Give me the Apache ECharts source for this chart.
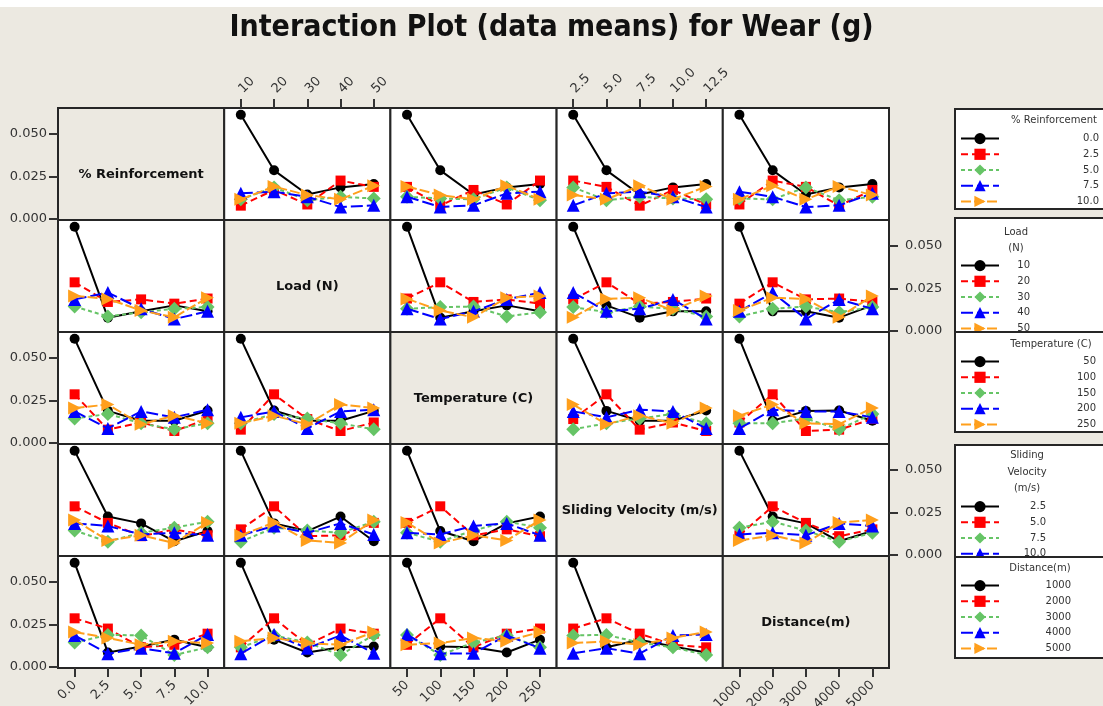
<!DOCTYPE html>
<html><head><meta charset="utf-8">
<script src="https://cdn.jsdelivr.net/npm/echarts@6/dist/echarts.min.js"></script>
<style>html,body{margin:0;padding:0;background:#ECE9E1}#c{width:1103px;height:706px}</style>
</head><body><div id="c"></div>
<script>
// ---- factor levels (tick labels) ----
const reinforcementLevels = ['0.0', '2.5', '5.0', '7.5', '10.0'];
const loadLevels = ['10', '20', '30', '40', '50'];
const temperatureLevels = ['50', '100', '150', '200', '250'];
const velocityLevels = ['2.5', '5.0', '7.5', '10.0', '12.5'];
const distanceLevels = ['1000', '2000', '3000', '4000', '5000'];

// ---- L25 experiment: level number (1-5) of each factor in each run ----
const runReinforcement = [1,1,1,1,1, 2,2,2,2,2, 3,3,3,3,3, 4,4,4,4,4, 5,5,5,5,5];
const runLoad          = [1,2,3,4,5, 1,2,3,4,5, 1,2,3,4,5, 1,2,3,4,5, 1,2,3,4,5];
const runTemperature   = [1,2,3,4,5, 2,3,4,5,1, 3,4,5,1,2, 4,5,1,2,3, 5,1,2,3,4];
const runVelocity      = [1,2,3,4,5, 3,4,5,1,2, 5,1,2,3,4, 2,3,4,5,1, 4,5,1,2,3];
const runDistance      = [1,2,3,4,5, 4,5,1,2,3, 2,3,4,5,1, 5,1,2,3,4, 3,4,5,1,2];

const wear = [0.0610, 0.0285, 0.0143, 0.0185, 0.0205,
              0.0078, 0.0170, 0.0085, 0.0225, 0.0188,
              0.0115, 0.0185, 0.0110, 0.0130, 0.0120,
              0.0150, 0.0160, 0.0130, 0.0070, 0.0080,
              0.0115, 0.0190, 0.0140, 0.0115, 0.0195];

const yTicks = [0, 0.025, 0.05];

const factors = [
  { label: '% Reinforcement', title: ['% Reinforcement'], levels: reinforcementLevels, runs: runReinforcement },
  { label: 'Load (N)', title: ['Load', '(N)'], levels: loadLevels, runs: runLoad },
  { label: 'Temperature (C)', title: ['Temperature (C)'], levels: temperatureLevels, runs: runTemperature },
  { label: 'Sliding Velocity (m/s)', title: ['Sliding', 'Velocity', '(m/s)'], levels: velocityLevels, runs: runVelocity },
  { label: 'Distance(m)', title: ['Distance(m)'], levels: distanceLevels, runs: runDistance }
];

// ---- styles ----
const BG = '#ECE9E1';
const FONT = 'DejaVu Sans';
const colors = ['#000000', '#FF0000', '#66C466', '#0000FF', '#FF9F1C'];
const symbols = ['circle', 'rect', 'diamond', 'triangle', 'path://M0,0 L10,5 L0,10 Z'];
const symbolSizes = [10, 10, 14, 13, 13];
const dashes = ['solid', [7, 4], [4, 3], [12, 4], [10, 3]];

const PX0 = 58, PW = 166.2, PY0 = 108, PH = 112;
const YMIN = -0.0006, YMAX = 0.065;

const legendLayout = [
  { boxTop: 109, boxBottom: 209, titleX: 1054, titleY: [120], itemTop: 133, textWidth: 95 },
  { boxTop: 218, boxBottom: 345, titleX: 1016, titleY: [232, 248], itemTop: 260, textWidth: 26 },
  { boxTop: 332, boxBottom: 432, titleX: 1051, titleY: [344], itemTop: 356, textWidth: 92 },
  { boxTop: 445, boxBottom: 570, titleX: 1027, titleY: [455, 472, 488], itemTop: 501, textWidth: 42 },
  { boxTop: 557, boxBottom: 658, titleX: 1040, titleY: [568], itemTop: 580, textWidth: 67 }
];

function cellMean(rf, rl, cf, cl) {
  let s = 0, n = 0;
  for (let i = 0; i < wear.length; i++) {
    if (factors[rf].runs[i] === rl && factors[cf].runs[i] === cl) { s += wear[i]; n++; }
  }
  return n ? s / n : null;
}

const grids = [], xAxes = [], yAxes = [], series = [], graphics = [], legends = [];

for (let r = 0; r < 5; r++) {
  for (let c = 0; c < 5; c++) {
    const idx = r * 5 + c;
    const left = PX0 + c * PW, top = PY0 + r * PH;
    grids.push({ left: left, top: top, width: PW, height: PH, show: true, containLabel: false,
      outerBoundsMode: 'none',
      backgroundColor: r === c ? BG : '#ffffff', borderColor: '#262626', borderWidth: 2 });
    const showTop = r === 0 && (c === 1 || c === 3);
    const showBottom = r === 4 && (c === 0 || c === 2 || c === 4);
    const showX = showTop || showBottom;
    xAxes.push({ gridIndex: idx, type: 'category', data: factors[c].levels, boundaryGap: true,
      position: showTop ? 'top' : 'bottom',
      axisLine: { show: false, onZero: false }, splitLine: { show: false },
      axisTick: { show: showX, alignWithLabel: true, length: 9, lineStyle: { color: '#333', width: 2 } },
      axisLabel: { show: showX, interval: 0, rotate: showTop ? -45 : 45, fontSize: 13, color: '#333', fontFamily: FONT,
        margin: showTop ? 17 : 15, hideOverlap: false } });
    const showLeft = c === 0 && r % 2 === 0;
    const showRight = c === 4 && r % 2 === 1;
    const showY = showLeft || showRight;
    yAxes.push({ gridIndex: idx, type: 'value', min: YMIN, max: YMAX, position: showRight ? 'right' : 'left',
      axisLine: { show: false, onZero: false }, splitLine: { show: false },
      axisTick: { show: showY, length: 9, customValues: yTicks, lineStyle: { color: '#333', width: 2 } },
      axisLabel: { show: showY, customValues: yTicks, formatter: v => v.toFixed(3), fontSize: 13, color: '#333',
        fontFamily: FONT, margin: showRight ? 16 : 11 } });

    if (r === c) {
      graphics.push({ type: 'text', x: left + PW / 2, y: top + PH / 2 + 11, z: 50,
        style: { text: factors[r].label, font: 'bold 13px "DejaVu Sans"', fill: '#111',
          align: 'center', verticalAlign: 'middle', textAlign: 'center', textVerticalAlign: 'middle' } });
      continue;
    }
    for (let t = 0; t < 5; t++) {
      const data = [];
      for (let k = 0; k < 5; k++) data.push(cellMean(r, t + 1, c, k + 1));
      series.push({ type: 'line', name: r + '|' + factors[r].levels[t], xAxisIndex: idx, yAxisIndex: idx,
        data: data, symbol: symbols[t], symbolSize: symbolSizes[t], showAllSymbol: true,
        lineStyle: { color: colors[t], width: 2, type: dashes[t] },
        itemStyle: { color: colors[t] }, emphasis: { disabled: true }, z: 2 + t });
    }
  }
}

// legends (one box per trace factor)
for (let r = 0; r < 5; r++) {
  const L = legendLayout[r];
  graphics.push({ type: 'rect', z: 10 + 2 * r,
    shape: { x: 955, y: L.boxTop, width: 200, height: L.boxBottom - L.boxTop },
    style: { fill: '#ffffff', stroke: '#262626', lineWidth: 2 } });
  factors[r].title.forEach((line, j) => {
    graphics.push({ type: 'text', z: 11 + 2 * r, x: L.titleX, y: L.titleY[j],
      style: { text: line, font: '10px "DejaVu Sans"', fill: '#333', align: 'center', verticalAlign: 'middle',
        textAlign: 'center', textVerticalAlign: 'middle' } });
  });
  legends.push({ data: factors[r].levels.map(l => r + '|' + l), orient: 'vertical', left: 960, top: L.itemTop,
    padding: 0, itemWidth: 38, itemHeight: 14, itemGap: 4.5, selectedMode: false, z: 11 + 2 * r,
    formatter: name => '{v|' + name.split('|')[1] + '}',
    textStyle: { color: '#333', fontFamily: FONT, fontSize: 10,
      rich: { v: { width: L.textWidth, align: 'right', fontFamily: FONT, fontSize: 10, color: '#333' } } } });
}

graphics.push({ type: 'rect', z: 0, shape: { x: 0, y: 0, width: 1103, height: 7 }, style: { fill: '#ffffff' } });

const chart = echarts.init(document.getElementById('c'), null, { renderer: 'canvas' });
chart.setOption({
  backgroundColor: BG,
  animation: false,
  title: { text: 'Interaction Plot (data means) for Wear (g)', left: 'center', top: 8,
    textStyle: { fontSize: 30, fontWeight: 'bold', color: '#111', fontFamily: '"DejaVu Sans Condensed", "DejaVu Sans"' } },
  grid: grids, xAxis: xAxes, yAxis: yAxes, series: series, legend: legends, graphic: graphics
});
</script></body></html>
